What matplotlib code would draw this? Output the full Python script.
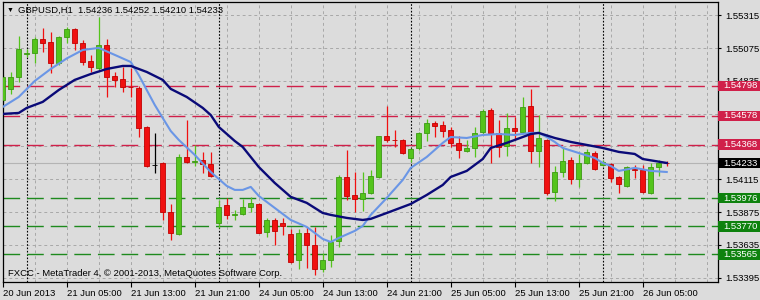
import matplotlib
matplotlib.use("Agg")
import matplotlib.pyplot as plt
from matplotlib.patches import Rectangle
from matplotlib.transforms import blended_transform_factory

plt.rcParams['font.family'] = ['Liberation Sans', 'DejaVu Sans']

# GBPUSD H1 bars, 20 Jun 21:00 .. 26 Jun 08:00
opens = [1.54695, 1.54776, 1.54864, 1.55035, 1.55039, 1.55142, 1.55120, 1.54966, 1.55156, 1.55215,
         1.55112, 1.54981, 1.54929, 1.55098, 1.54871, 1.54849, 1.54790, 1.54783, 1.54498, 1.54220,
         1.54234, 1.53876, 1.53715, 1.54278, 1.54242, 1.54256, 1.54227, 1.53795, 1.53927, 1.53854,
         1.53861, 1.53912, 1.53934, 1.53729, 1.53817, 1.53795, 1.53715, 1.53525, 1.53722, 1.53634,
         1.53459, 1.53525, 1.53664, 1.54132, 1.54000, 1.53971, 1.54015, 1.54132, 1.54432, 1.54403,
         1.54403, 1.54271, 1.54344, 1.54454, 1.54527, 1.54512, 1.54476, 1.54381, 1.54322, 1.54344,
         1.54461, 1.54622, 1.54454, 1.54359, 1.54490, 1.54461, 1.54651, 1.54322, 1.54403, 1.54022,
         1.54168, 1.54256, 1.54117, 1.54234, 1.54307, 1.54220, 1.54227, 1.54132, 1.54066, 1.54187,
         1.54183, 1.54015, 1.54205, 1.54236]
highs = [1.54878, 1.54900, 1.55164, 1.55068, 1.55156, 1.55222, 1.55193, 1.55164, 1.55229, 1.55222,
         1.55134, 1.55025, 1.55303, 1.55142, 1.54900, 1.54937, 1.54929, 1.54798, 1.54505, 1.54454,
         1.54242, 1.53934, 1.54300, 1.54549, 1.54366, 1.54315, 1.54315, 1.53964, 1.53978, 1.53890,
         1.53971, 1.53986, 1.53942, 1.53832, 1.53832, 1.53832, 1.53751, 1.53751, 1.53766, 1.53766,
         1.53576, 1.53707, 1.54146, 1.54329, 1.54168, 1.54168, 1.54183, 1.54432, 1.54651, 1.54476,
         1.54410, 1.54344, 1.54461, 1.54556, 1.54542, 1.54542, 1.54498, 1.54432, 1.54403, 1.54498,
         1.54629, 1.54637, 1.54549, 1.54600, 1.54571, 1.54717, 1.54776, 1.54585, 1.54410, 1.54212,
         1.54351, 1.54278, 1.54300, 1.54337, 1.54322, 1.54256, 1.54234, 1.54139, 1.54212, 1.54220,
         1.54220, 1.54234, 1.54256, 1.54252]
lows = [1.54681, 1.54739, 1.54827, 1.55010, 1.54966, 1.55046, 1.54893, 1.54951, 1.55112, 1.55061,
        1.54951, 1.54900, 1.54915, 1.54717, 1.54790, 1.54754, 1.54717, 1.54424, 1.54205, 1.54161,
        1.53817, 1.53671, 1.53707, 1.54234, 1.54212, 1.54161, 1.54132, 1.53759, 1.53825, 1.53817,
        1.53854, 1.53876, 1.53718, 1.53693, 1.53634, 1.53707, 1.53503, 1.53459, 1.53466, 1.53415,
        1.53437, 1.53473, 1.53620, 1.53964, 1.53876, 1.53883, 1.54007, 1.54125, 1.54388, 1.54351,
        1.54300, 1.54242, 1.54329, 1.54395, 1.54424, 1.54424, 1.54351, 1.54271, 1.54315, 1.54278,
        1.54446, 1.54234, 1.54278, 1.54285, 1.54403, 1.54454, 1.54234, 1.54205, 1.54000, 1.53956,
        1.54132, 1.54081, 1.54059, 1.54227, 1.54183, 1.54212, 1.54095, 1.54015, 1.54059, 1.54125,
        1.54015, 1.54007, 1.54139, 1.54210]
closes = [1.54864, 1.54864, 1.55068, 1.55039, 1.55142, 1.55112, 1.54966, 1.55156, 1.55215, 1.55112,
          1.54973, 1.54937, 1.55098, 1.54864, 1.54842, 1.54790, 1.54788, 1.54490, 1.54212, 1.54220,
          1.53876, 1.53722, 1.54278, 1.54242, 1.54249, 1.54227, 1.54139, 1.53912, 1.53854, 1.53861,
          1.53912, 1.53942, 1.53722, 1.53817, 1.53737, 1.53773, 1.53510, 1.53722, 1.53634, 1.53459,
          1.53525, 1.53656, 1.54132, 1.53993, 1.53971, 1.54015, 1.54139, 1.54432, 1.54403, 1.54401,
          1.54307, 1.54337, 1.54454, 1.54527, 1.54505, 1.54468, 1.54381, 1.54329, 1.54344, 1.54454,
          1.54615, 1.54454, 1.54351, 1.54490, 1.54468, 1.54644, 1.54322, 1.54417, 1.54015, 1.54168,
          1.54249, 1.54117, 1.54234, 1.54315, 1.54190, 1.54242, 1.54125, 1.54081, 1.54205, 1.54183,
          1.54022, 1.54205, 1.54234, 1.54233]

# moving averages (bar index, price)
ma_fast_idx = [0, 2, 4, 6, 8, 10, 12, 14, 16, 17, 18, 19, 20, 21, 22, 24, 26, 28, 29, 30, 31, 32, 34,
               36, 38, 40, 41, 42, 44, 45, 46, 48, 50, 51, 53, 55, 56, 58, 60, 62, 64, 66, 67, 68, 69,
               70, 72, 74, 75, 76, 77, 79, 81, 83]
ma_fast = [1.54644, 1.54717, 1.54834, 1.54922, 1.54999, 1.55061, 1.55076, 1.55025, 1.54973, 1.54878,
           1.54768, 1.54659, 1.54563, 1.54468, 1.54403, 1.54293, 1.54168, 1.54066, 1.54037, 1.54037,
           1.54059, 1.53993, 1.53905, 1.53817, 1.53766, 1.53678, 1.53656, 1.53685, 1.53737, 1.53773,
           1.53854, 1.53978, 1.54110, 1.54198, 1.54278, 1.54381, 1.54424, 1.54417, 1.54439, 1.54446,
           1.54439, 1.54454, 1.54454, 1.54424, 1.54388, 1.54344, 1.54307, 1.54271, 1.54234, 1.54212,
           1.54176, 1.54198, 1.54176, 1.54168]
ma_slow_idx = [0, 2, 3, 5, 7, 9, 11, 13, 15, 16, 18, 20, 21, 23, 25, 26, 27, 29, 30, 32, 34, 36, 38,
               40, 41, 43, 45, 46, 48, 50, 51, 53, 55, 56, 58, 60, 61, 63, 65, 66, 67, 69, 71, 73, 75,
               77, 79, 80, 83]
ma_slow = [1.54593, 1.54600, 1.54637, 1.54681, 1.54768, 1.54842, 1.54885, 1.54922, 1.54944, 1.54944,
           1.54900, 1.54842, 1.54776, 1.54717, 1.54637, 1.54585, 1.54498, 1.54395, 1.54351, 1.54205,
           1.54088, 1.53986, 1.53942, 1.53868, 1.53854, 1.53832, 1.53817, 1.53825, 1.53868, 1.53912,
           1.53934, 1.54000, 1.54073, 1.54132, 1.54176, 1.54263, 1.54344, 1.54381, 1.54424, 1.54446,
           1.54454, 1.54417, 1.54388, 1.54366, 1.54344, 1.54315, 1.54300, 1.54263, 1.54234]

resistance = [1.54798, 1.54578, 1.54368]
support = [1.53976, 1.53770, 1.53565]
bid = 1.54233

price_ticks = [1.55315, 1.55075, 1.54835, 1.54595, 1.54355, 1.54115, 1.53875, 1.53635, 1.53395]
time_ticks = [0, 8, 16, 24, 32, 40, 48, 56, 64, 72, 80]
time_labels = ["20 Jun 2013", "21 Jun 05:00", "21 Jun 13:00", "21 Jun 21:00", "24 Jun 05:00",
               "24 Jun 13:00", "24 Jun 21:00", "25 Jun 05:00", "25 Jun 13:00", "25 Jun 21:00",
               "26 Jun 05:00"]
day_starts = [3, 27, 51, 75]

bg = "#DCDCDC"
bull = "#54C41C"
bear = "#F01010"

W, H = 760, 300
fig = plt.figure(figsize=(W / 100, H / 100), dpi=100, facecolor=bg)
ax_l, ax_r, ax_t, ax_b = 2.5, 717.5, 2.0, 282.0
ax = fig.add_axes([ax_l / W, (H - ax_b) / H, (ax_r - ax_l) / W, (ax_b - ax_t) / H])
ax.set_facecolor(bg)

ymax = 1.55412
ymin = 1.53363
ax.set_ylim(ymin, ymax)
ax.set_xlim(-0.03, -0.03 + (ax_r - ax_l) / 8.0)
px = (ymax - ymin) / (ax_b - ax_t)  # price per pixel

# grid
for p in price_ticks:
    ax.axhline(p, color="#A8A8A8", lw=0.7, dashes=(3, 3), zorder=0.5)
for k in range(0, 90, 4):
    ax.axvline(k, color="#A8A8A8", lw=0.7, dashes=(3, 3), zorder=0.5)
for d in day_starts:
    ax.axvline(d, color="black", lw=0.8, dashes=(1.5, 1.5), zorder=0.6)

# levels
for p in resistance:
    ax.axhline(p, color="#D0204A", lw=1.0, dashes=(12, 5), zorder=0.8)
for p in support:
    ax.axhline(p, color="#1E8A1E", lw=1.0, dashes=(12, 5), zorder=0.8)
ax.axhline(bid, color="#B4B4B4", lw=0.8, zorder=0.7)

# candles
for i in range(len(opens)):
    o, h, l, c = opens[i], highs[i], lows[i], closes[i]
    if c > o:
        col, edge = bull, "#3C9A12"
    elif c < o:
        col, edge = bear, "#C00000"
    else:
        col, edge = "black", "black"
    ax.vlines(i, l, h, color=col, lw=0.9, zorder=2)
    ax.bar(i, max(abs(c - o), px * 0.3), bottom=min(o, c), width=0.62,
           color=col, edgecolor=edge, linewidth=0.6, zorder=3)

ax.plot(ma_fast_idx, ma_fast, color="#6A96E6", lw=1.5, zorder=4)
ax.plot(ma_slow_idx, ma_slow, color="#0A0A78", lw=1.7, zorder=4)

# axes styling
for s in ax.spines.values():
    s.set_color("black")
    s.set_linewidth(0.9)
ax.yaxis.tick_right()
ax.set_yticks(price_ticks)
ax.set_yticklabels(["%.5f" % p for p in price_ticks])
ax.tick_params(axis="y", length=2.5, width=0.8, pad=3, labelsize=6.8, colors="black")
ax.set_xticks(time_ticks)
ax.set_xticklabels(time_labels, ha="left")
ax.tick_params(axis="x", length=3.5, width=0.8, pad=1.5, labelsize=6.8, colors="black")
for lbl in ax.get_xticklabels():
    lbl.set_x(lbl.get_position()[0])

# right side price boxes
tr = blended_transform_factory(ax.transAxes, ax.transData)
box_w = (W - ax_r) / (ax_r - ax_l)
box_h = 10.5 * px
boxes = [(p, "#D0204A") for p in resistance] + [(bid, "black")] + [(p, "#0E820E") for p in support]
for p, col in boxes:
    ax.add_patch(Rectangle((1.0, p - box_h / 2), box_w, box_h, transform=tr,
                           facecolor=col, edgecolor="none", clip_on=False, zorder=10))
    ax.text(1.0 + 5.5 / (ax_r - ax_l), p, "%.5f" % p, transform=tr, color="white",
            fontsize=6.8, va="center", ha="left", clip_on=False, zorder=11)

# header and footer
fig.text(10 / W, 1 - 10 / H, "\u25BC", fontsize=5, va="center", ha="center")
fig.text(18 / W, 1 - 10 / H, "GBPUSD,H1  1.54236 1.54252 1.54210 1.54233",
         fontsize=6.8, va="center", ha="left")
fig.text(7.5 / W, 1 - 274 / H, "FXCC - MetaTrader 4, \u00A9 2001-2013, MetaQuotes Software Corp.",
         fontsize=6.8, va="center", ha="left")

fig.savefig("out.png", dpi=100, facecolor=bg)
